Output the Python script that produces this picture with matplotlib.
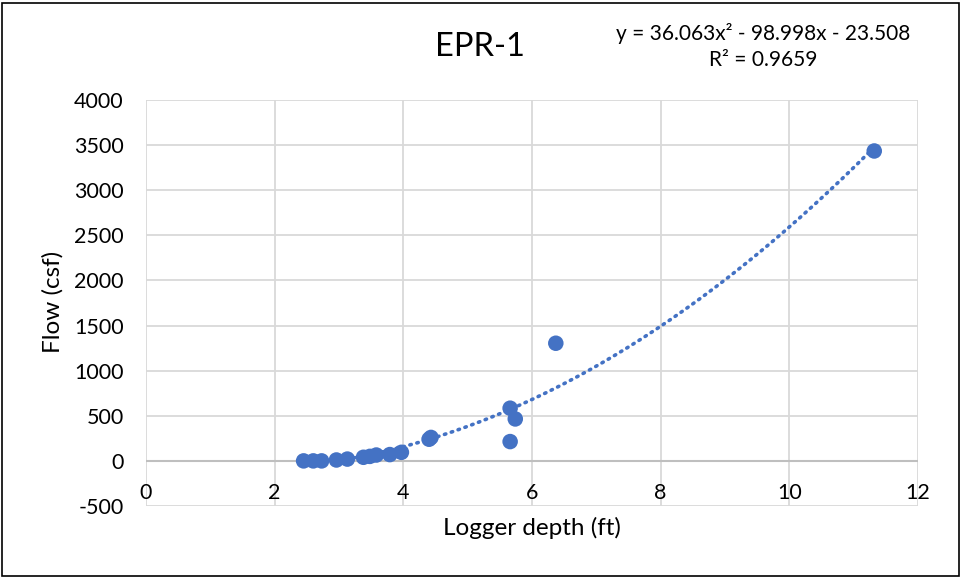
import matplotlib
matplotlib.use("Agg")
import matplotlib.pyplot as plt
from matplotlib.patches import Rectangle
import numpy as np

plt.rcParams['font.family'] = ['Lato', 'DejaVu Sans']
plt.rcParams['axes.unicode_minus'] = False

# Data
depth = [2.45, 2.60, 2.73, 2.96, 3.13, 3.38, 3.48, 3.58, 3.79, 3.97,
         4.40, 4.43, 5.66, 5.66, 5.74, 6.37, 11.32]
flow = [0, 0, 0, 10, 20, 40, 50, 65, 70, 95,
        240, 260, 584, 214, 465, 1304, 3435]
coeffs = [36.063, -98.998, -23.508]
title = "EPR-1"
eq_line1 = "y = 36.063x² - 98.998x - 23.508"
eq_line2 = "R² = 0.9659"
xticks = [0, 2, 4, 6, 8, 10, 12]
yticks = [-500, 0, 500, 1000, 1500, 2000, 2500, 3000, 3500, 4000]

W, H = 961, 577
fig = plt.figure(figsize=(W / 100, H / 100), dpi=100)
ax = fig.add_axes([146 / W, 71 / H, 772 / W, 406 / H])

blue = '#4472C4'
grid = '#D9D9D9'

ax.set_xlim(0, 12)
ax.set_ylim(-500, 4000)

for x in xticks:
    ax.axvline(x, color=grid, lw=1.3, zorder=0)
for y in yticks:
    ax.axhline(y, color=grid, lw=1.3, zorder=0)
ax.axhline(0, color='#BFBFBF', lw=1.5, zorder=1)

for s in ax.spines.values():
    s.set_visible(False)

ax.set_xticks(xticks)
ax.set_yticks(yticks)
ax.tick_params(length=0, labelsize=15.5, colors='black')
ax.tick_params(axis='y', pad=16)
ax.set_xticklabels([])
for x in xticks:
    ax.annotate(str(x), xy=(x, 0), xytext=(0, -22), textcoords='offset pixels',
                ha='center', va='top', fontsize=15.5)

xs = np.linspace(min(depth), max(depth), 200)
ax.plot(xs, np.polyval(coeffs, xs), linestyle=(0, (0.4, 1.6)), color=blue,
        lw=2.6, dash_capstyle='round', zorder=2)
ax.scatter(depth, flow, s=125, color=blue, zorder=3, edgecolors='none')

fig.text(480 / W, 1 - 47 / H, title, ha='center', va='center', fontsize=23.5)
fig.text(763 / W, 1 - 33 / H, eq_line1, ha='center', va='center', fontsize=15)
fig.text(763 / W, 1 - 60 / H, eq_line2, ha='center', va='center', fontsize=15)
fig.text(532 / W, 1 - 528 / H, "Logger depth (ft)", ha='center', va='center',
         fontsize=17.5)
fig.text(53 / W, 1 - 302 / H, "Flow (csf)", ha='center', va='center',
         fontsize=17.5, rotation=90)

fig.add_artist(Rectangle((1.5 / W, 1.5 / H), (W - 4) / W, (H - 4) / H,
                         transform=fig.transFigure, fill=False,
                         edgecolor='black', lw=1.2))

fig.savefig("out.png", dpi=100)
